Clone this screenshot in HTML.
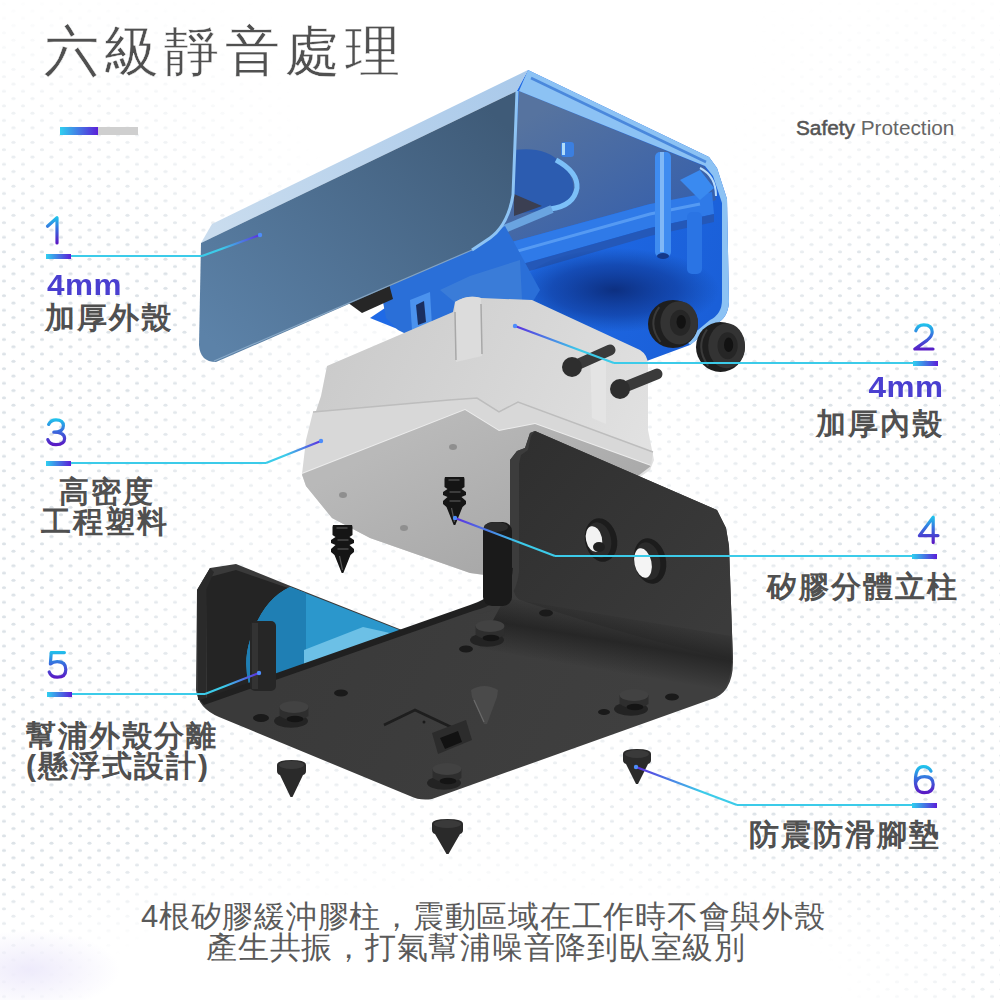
<!DOCTYPE html>
<html><head><meta charset="utf-8">
<style>
html,body{margin:0;padding:0;width:1000px;height:1000px;overflow:hidden;background:#fff}
body{position:relative;font-family:"Liberation Sans",sans-serif}
svg.main{position:absolute;left:0;top:0;width:1000px;height:1000px}
.t{position:absolute;white-space:nowrap;line-height:1}
.title{left:44px;top:24px;font-size:55px;color:#505050;letter-spacing:5.2px;-webkit-text-stroke:0.45px #fff;paint-order:normal}
.mm{font-size:30px;font-weight:700;color:#4a3fd0;letter-spacing:0.5px;transform:scaleX(1.05);transform-origin:left top}
.lab{font-size:30px;font-weight:700;color:#505050;letter-spacing:2px}
.bot{font-size:31px;letter-spacing:0.75px;color:#5a5a5a}
.sp{font-size:20.8px;color:#666}
.r{text-align:right}
</style></head><body>
<svg class="main" viewBox="0 0 1000 1000">
<defs>
 <linearGradient id="gbar" x1="0" x2="1" y1="0" y2="0"><stop offset="0" stop-color="#2fd0f0"/><stop offset="1" stop-color="#5a1fd8"/></linearGradient>
 <linearGradient id="gnum" x1="0" x2="0" y1="0" y2="1"><stop offset="0" stop-color="#3a7ff0"/><stop offset="1" stop-color="#6a2fe0"/></linearGradient>
</defs>
<defs>
 <pattern id="dots" patternUnits="userSpaceOnUse" width="19" height="14.6">
  <ellipse cx="4" cy="3.6" rx="2.1" ry="1.5" fill="#dce2e7"/>
  <ellipse cx="13.5" cy="10.9" rx="2.1" ry="1.5" fill="#dce2e7"/>
 </pattern>
 <radialGradient id="mTop" gradientUnits="userSpaceOnUse" cx="520" cy="40" r="420"><stop offset="0" stop-color="#000"/><stop offset="0.55" stop-color="#000"/><stop offset="1" stop-color="#000" stop-opacity="0"/></radialGradient>
 <radialGradient id="mBot" gradientUnits="userSpaceOnUse" cx="470" cy="990" r="620" gradientTransform="translate(0 990) scale(1 0.27) translate(0 -990)"><stop offset="0" stop-color="#000"/><stop offset="0.6" stop-color="#000"/><stop offset="1" stop-color="#000" stop-opacity="0"/></radialGradient>
 <linearGradient id="mTop2" gradientUnits="userSpaceOnUse" x1="0" y1="0" x2="0" y2="260"><stop offset="0" stop-color="#000" stop-opacity="0.95"/><stop offset="1" stop-color="#000" stop-opacity="0"/></linearGradient>
 <radialGradient id="mCen" gradientUnits="userSpaceOnUse" cx="470" cy="560" r="380"><stop offset="0" stop-color="#000" stop-opacity="0.6"/><stop offset="0.7" stop-color="#000" stop-opacity="0.45"/><stop offset="1" stop-color="#000" stop-opacity="0"/></radialGradient>
 <mask id="dmask" maskUnits="userSpaceOnUse" x="0" y="0" width="1000" height="1000">
  <rect width="1000" height="1000" fill="#fff"/>
  <rect width="1000" height="1000" fill="url(#mTop)"/>
  <rect width="1000" height="1000" fill="url(#mBot)"/>
  <rect width="1000" height="1000" fill="url(#mTop2)"/>
  <rect width="1000" height="1000" fill="url(#mCen)"/>
 </mask>
</defs>
<rect width="1000" height="1000" fill="url(#dots)" mask="url(#dmask)"/>
<defs><radialGradient id="gSm" cx="0.5" cy="0.5" r="0.5"><stop offset="0" stop-color="#eeebfb"/><stop offset="1" stop-color="#eeebfb" stop-opacity="0"/></radialGradient></defs><ellipse cx="30" cy="970" rx="90" ry="40" fill="url(#gSm)"/>
<!-- title bar -->
<rect x="60" y="127" width="38" height="8" fill="url(#gbar)"/>
<rect x="98" y="127" width="40" height="8" fill="#cfcfcf"/>


<!-- ===== PRODUCT ===== -->
<defs>
 <linearGradient id="gInt" gradientUnits="userSpaceOnUse" x1="540" y1="80" x2="640" y2="350"><stop offset="0" stop-color="#4a74b0"/><stop offset="0.45" stop-color="#2f6fd0"/><stop offset="1" stop-color="#1b5fd6"/></linearGradient>
 <linearGradient id="gPanel" gradientUnits="userSpaceOnUse" x1="480" y1="100" x2="230" y2="360"><stop offset="0" stop-color="#3f5b78"/><stop offset="1" stop-color="#5c82a8"/></linearGradient>
 <linearGradient id="gStrip" gradientUnits="userSpaceOnUse" x1="212" y1="230" x2="528" y2="75"><stop offset="0" stop-color="#c9dcee"/><stop offset="1" stop-color="#a9c9ea"/></linearGradient>
 <linearGradient id="gBox" gradientUnits="userSpaceOnUse" x1="320" y1="300" x2="650" y2="460"><stop offset="0" stop-color="#c9c9c9"/><stop offset="0.55" stop-color="#d6d6d6"/><stop offset="1" stop-color="#e2e2e2"/></linearGradient>
 <linearGradient id="gBoxBot" gradientUnits="userSpaceOnUse" x1="400" y1="440" x2="470" y2="575"><stop offset="0" stop-color="#b9b9b9"/><stop offset="1" stop-color="#a9a9a9"/></linearGradient>
 <linearGradient id="gBr" gradientUnits="userSpaceOnUse" x1="500" y1="440" x2="560" y2="780"><stop offset="0" stop-color="#2e2e2e"/><stop offset="1" stop-color="#3b3b3b"/></linearGradient>
 <linearGradient id="gBlueT" gradientUnits="userSpaceOnUse" x1="290" y1="590" x2="400" y2="640"><stop offset="0" stop-color="#2f8fc0"/><stop offset="1" stop-color="#5fb7e0"/></linearGradient>
</defs>

<!-- shell interior -->
<defs>
 <linearGradient id="gCeil" gradientUnits="userSpaceOnUse" x1="560" y1="100" x2="640" y2="240"><stop offset="0" stop-color="#56739f"/><stop offset="1" stop-color="#3760ab"/></linearGradient>
 <linearGradient id="gLow" gradientUnits="userSpaceOnUse" x1="520" y1="260" x2="700" y2="340"><stop offset="0" stop-color="#1f6ae6"/><stop offset="1" stop-color="#1a5fd8"/></linearGradient>
 <radialGradient id="gShadow" cx="0.45" cy="0.5" r="0.5"><stop offset="0" stop-color="#0a2670" stop-opacity="0.85"/><stop offset="0.6" stop-color="#0c3088" stop-opacity="0.5"/><stop offset="1" stop-color="#0d3a8c" stop-opacity="0"/></radialGradient>
</defs>
<path d="M517,90 L528,70 L709,157 L717,168 L727,199 L729,302 Q728,318 716,324 L690,345 L644,362 L560,352 L470,334 L400,330 L370,318 L472,250 Q500,232 510,205 Z" fill="url(#gLow)"/>
<!-- ceiling -->
<path d="M519,91 L704,166 L712,178 L716,200 L700,205 L650,204 L490,248 Q506,228 512,200 Z" fill="url(#gCeil)"/>
<!-- rod -->
<path d="M490,248 L650,204 L712,192 L714,214 L650,228 L480,276 Z" fill="#2f7ae8"/>
<path d="M500,256 L650,214 L700,204" stroke="#5fa2f5" stroke-width="3" fill="none" opacity="0.8"/>
<path d="M480,276 L650,228 L714,214 L714,222 L650,236 L478,286 Z" fill="#2458b8"/>
<!-- shadow -->
<ellipse cx="625" cy="290" rx="105" ry="42" fill="url(#gShadow)"/>
<!-- boss circle -->
<path d="M514,150 Q545,146 560,162 Q578,180 572,196 Q566,208 548,210 L514,214 Z" fill="#2c5cb0"/>
<path d="M514,194 L542,206 L514,216 Z" fill="#3b3f52"/>
<path d="M556,160 Q578,172 577,188 Q574,206 550,209" stroke="#7cc0f8" stroke-width="5" fill="none"/>
<path d="M502,230 L552,209" stroke="#6aa4e0" stroke-width="8" fill="none"/>
<rect x="561" y="142" width="13" height="15" rx="3" fill="#3b7fe0"/><rect x="562" y="143" width="3" height="12" fill="#b0dcfa"/>
<!-- pillars -->
<rect x="655" y="152" width="16" height="105" rx="5" fill="#3f8cf0"/>
<rect x="660" y="152" width="4" height="100" fill="#9ccaf8" opacity="0.7"/>
<ellipse cx="663" cy="256" rx="6" ry="3" fill="#14398a"/>
<rect x="687" y="212" width="15" height="62" rx="5" fill="#2a74e4"/>
<path d="M680,180 L700,170 L714,188 L700,200 Z" fill="#3a8af0"/>
<!-- rim top + right -->
<path d="M528,70 L709,157 L717,168 L727,199 L729,302 Q728,318 716,324 L690,345 L686,340 L710,320 Q722,314 722,300 L722,203 L713,176 L705,166 L519,91 Z" fill="#8cc2f4"/>
<path d="M531,78 L706,162" stroke="#4a88dc" stroke-width="2.5" fill="none"/>
<path d="M700,168 Q716,176 716,196" stroke="#b9dcfb" stroke-width="2" fill="none"/>
<!-- blue parts under panel -->
<path d="M380,286 L470,246 L505,226 L540,290 L520,322 L470,334 L410,336 L398,330 L386,318 Z" fill="#2a6fd8"/>
<path d="M410,300 L430,292 L432,326 L412,330 Z" fill="#4b92ee"/>
<path d="M416,305 L424,301 L426,322 L418,325 Z" fill="#1a2f60"/>
<path d="M440,290 L470,276 L520,260 L522,300 L470,315 Z" fill="#3f7fd8" opacity="0.8"/>
<path d="M347,302 L389,284 L393,299 L362,313 Z" fill="#262626"/>
<!-- front panel strip -->
<path d="M201,243 L212,224 L528,70 L517,91 Z" fill="url(#gStrip)"/>
<!-- front panel -->
<path d="M201,243 L517,91 L513,195 Q508,225 490,238 L472,250 L216,362 Q200,362 199,345 Z" fill="url(#gPanel)"/>
<path d="M517,91 L513,195 Q508,225 490,238 L472,250" stroke="#8ec4f4" stroke-width="3" fill="none"/>
<path d="M214,361 L472,250" stroke="#9dbad6" stroke-width="1.2" fill="none" opacity="0.7"/>
<!-- white box -->
<path d="M327,366 L453,312 L455,302 Q468,294 481,298 L532,300 L640,350 Q648,355 648,365 L648,430 L654,460 L650,470 L600,505 L485,575 L470,573 L370,538 L332,518 L306,486 L302,475 L311,440 L315,414 L321,396 Z" fill="url(#gBox)"/>
<!-- box rim band -->
<path d="M313,412 L449,400 L477,398 L499,412 L518,402 L653,452 L651,466 L535,424 L499,431 L465,410 L302,474 L306,440 Z" fill="#d8d8d8"/>
<path d="M313,412 L449,400 L477,398 L499,412 L518,402 L653,452" stroke="#bdbdbd" stroke-width="1.5" fill="none"/>
<path d="M302,474 L465,410 L499,431 L535,424 L651,466" stroke="#ececec" stroke-width="2" fill="none"/>
<!-- box bottom face -->
<path d="M302,474 L465,410 L499,431 L535,424 L651,466 L600,505 L485,575 L470,573 L370,538 L332,518 L306,486 Z" fill="url(#gBoxBot)"/>
<!-- box posts -->
<path d="M455,302 Q468,294 481,298 L482,356 L456,362 Z" fill="#dcdcdc"/>
<path d="M455,312 L456,360 M481,304 L482,354" stroke="#a8a8a8" stroke-width="1.5" fill="none"/>
<path d="M590,350 L606,356 L606,424 L592,418 Z" fill="#e4e4e4"/>
<!-- screw holes -->
<ellipse cx="453" cy="447" rx="4" ry="3" fill="#8f8f8f"/><ellipse cx="343" cy="495" rx="4" ry="3" fill="#8f8f8f"/><ellipse cx="404" cy="528" rx="4" ry="3" fill="#8f8f8f"/>

<!-- screws on box -->
<g stroke="#3a3a3a" stroke-linecap="round">
 <line x1="572" y1="367" x2="610" y2="350" stroke-width="11"/>
 <line x1="620" y1="389" x2="657" y2="374" stroke-width="11"/>
</g>
<circle cx="572" cy="367" r="10" fill="#2e2e2e"/>
<circle cx="620" cy="389" r="10" fill="#2e2e2e"/>

<!-- grommets -->
<ellipse cx="673.0" cy="324.0" rx="25.0" ry="24.0" fill="#1e1e1e"/><path d="M659.2,307.2 Q646.8,324.0 660.5,342.0" stroke="#3a3a3a" stroke-width="2" fill="none"/><ellipse cx="679.2" cy="322.8" rx="18.8" ry="21.6" fill="#333"/><ellipse cx="680.2" cy="322.8" rx="10.3" ry="13.0" fill="#262626"/><ellipse cx="681.2" cy="321.8" rx="4.7" ry="6.9" fill="#121212"/>
<ellipse cx="720.5" cy="347.0" rx="24.5" ry="25.0" fill="#1e1e1e"/><path d="M707.0,329.5 Q694.8,347.0 708.2,365.8" stroke="#3a3a3a" stroke-width="2" fill="none"/><ellipse cx="726.6" cy="345.8" rx="18.4" ry="22.5" fill="#333"/><ellipse cx="727.6" cy="345.8" rx="10.1" ry="13.5" fill="#262626"/><ellipse cx="728.6" cy="344.8" rx="4.6" ry="7.2" fill="#121212"/>
<!-- spiral screws -->
<path d="M464.0,477.0 L464.5,479.0 L464.5,487.0 L461.5,489.0 L466.0,492.0 L466.0,495.0 L461.5,497.0 L466.0,501.0 L466.0,504.0 L462.5,507.0 L455.3,525.0 L453.7,525.0 L446.5,507.0 L443.0,504.0 L443.0,501.0 L447.5,497.0 L443.0,495.0 L443.0,492.0 L447.5,489.0 L444.5,487.0 L444.5,479.0 L445.0,477.0 Z" fill="#151515"/><path d="M449.5,492.0 L460.5,492.0 M449.5,501.0 L460.5,501.0 M448.5,480.0 L459.5,480.0" stroke="#4a4a4a" stroke-width="1.3"/><path d="M451.5,508.0 L454.5,522.0" stroke="#555" stroke-width="1.2"/><path d="M352.0,525.0 L352.5,527.0 L352.5,535.0 L349.5,537.0 L354.0,540.0 L354.0,543.0 L349.5,545.0 L354.0,549.0 L354.0,552.0 L350.5,555.0 L343.3,573.0 L341.7,573.0 L334.5,555.0 L331.0,552.0 L331.0,549.0 L335.5,545.0 L331.0,543.0 L331.0,540.0 L335.5,537.0 L332.5,535.0 L332.5,527.0 L333.0,525.0 Z" fill="#151515"/><path d="M337.5,540.0 L348.5,540.0 M337.5,549.0 L348.5,549.0 M336.5,528.0 L347.5,528.0" stroke="#4a4a4a" stroke-width="1.3"/><path d="M339.5,556.0 L342.5,570.0" stroke="#555" stroke-width="1.2"/>

<!-- black bracket -->
<defs>
 <linearGradient id="gPlate" gradientUnits="userSpaceOnUse" x1="520" y1="440" x2="730" y2="620"><stop offset="0" stop-color="#2f2f2f"/><stop offset="1" stop-color="#3b3b3b"/></linearGradient>
 <linearGradient id="gBase" gradientUnits="userSpaceOnUse" x1="300" y1="640" x2="600" y2="790"><stop offset="0" stop-color="#3a3a3a"/><stop offset="1" stop-color="#3f3f3f"/></linearGradient>
 <linearGradient id="gBend" gradientUnits="userSpaceOnUse" x1="0" y1="590" x2="0" y2="680"><stop offset="0" stop-color="#2e2e2e"/><stop offset="0.5" stop-color="#404040"/><stop offset="1" stop-color="#383838"/></linearGradient>
</defs>
<path d="M535,431 L717,510 L726,528 L729,546 L733,662 Q733,694 709,700 L432,799 Q420,801 410,796 L219,717 Q198,708 196,690 L197,590 L210,568 L236,564 L288,585 L402,630 L470,611 Q505,600 510,570 L510,460 L517,451 L525,448 L530,433 Z" fill="url(#gBase)"/>
<!-- right plate face -->
<path d="M535,431 L717,510 L726,528 L729,546 L733,660 Q640,640 520,600 Q512,596 512,575 L512,460 L519,452 L527,449 L531,434 Z" fill="url(#gPlate)"/>
<!-- bend highlight -->
<defs><linearGradient id="gBendS" gradientUnits="userSpaceOnUse" x1="622" y1="612" x2="612" y2="672"><stop offset="0" stop-color="#1a1a1a" stop-opacity="0"/><stop offset="0.5" stop-color="#1a1a1a" stop-opacity="0.65"/><stop offset="1" stop-color="#1a1a1a" stop-opacity="0"/></linearGradient></defs>
<path d="M505,598 L731,636 L732,662 Q731,680 722,692 L478,648 Z" fill="url(#gBendS)"/>
<!-- right plate inner edge -->
<path d="M510,460 L517,451 L525,448 L530,433 L535,431 L531,436 L528,450 L521,455 L519,464 L519,572 Q516,606 480,614 L470,611 Q505,600 510,570 Z" fill="#3c3c3c"/>
<!-- left plate inner -->
<path d="M206,578 L236,570 L288,588 L402,632 L207,703 Z" fill="#242424"/>
<path d="M197,590 L210,568 L214,572 L206,590 L206,700 L198,700 Z" fill="#2a2a2a"/>
<!-- blue translucent -->
<path d="M290,587 L402,631 L306,665 L249,684 Q243,662 250,640 Q262,600 290,587 Z" fill="#2b97cc"/>
<path d="M290,587 L306,593 L306,665 L249,684 Q243,662 250,640 Q262,600 290,587 Z" fill="#1f7fb4"/>
<path d="M304,650 L363,627 L390,633 L304,667 Z" fill="#6cc0e6"/>

<!-- post in left -->
<!-- rim -->
<path d="M200,700 L470,605 Q502,595 506,566 L513,568 Q511,602 473,611 L204,705 Z" fill="#202020"/>
<rect x="250" y="621" width="26" height="70" rx="5" fill="#262626"/>
<rect x="252" y="623" width="6" height="66" fill="#333"/>

<!-- right post (through window) -->
<rect x="483" y="522" width="29" height="84" rx="9" fill="#1a1a1a"/>
<ellipse cx="496" cy="527" rx="12" ry="5" fill="#2c2c2c"/>
<!-- holes right plate -->
<ellipse cx="601" cy="540" rx="16" ry="22" transform="rotate(-12 601 540)" fill="#1c1c1c"/>
<ellipse cx="599" cy="540" rx="12" ry="18" transform="rotate(-12 599 540)" fill="#2a2a2a"/>
<ellipse cx="594" cy="539" rx="8" ry="13" transform="rotate(-12 594 539)" fill="#f2f2f2"/>
<ellipse cx="599" cy="547" rx="6" ry="5" fill="#202020"/>
<ellipse cx="650" cy="561" rx="16" ry="23" transform="rotate(-12 650 561)" fill="#1c1c1c"/>
<ellipse cx="648" cy="561" rx="12" ry="19" transform="rotate(-12 648 561)" fill="#2a2a2a"/>
<ellipse cx="643" cy="563" rx="8.5" ry="15" transform="rotate(-12 643 563)" fill="#f4f4f4"/>
<!-- base holes / bumps -->
<ellipse cx="291" cy="721" rx="17" ry="6.8" fill="#232323"/><path d="M279.6,707 L279.6,716 Q294,725 308.4,716 L308.4,707 Z" fill="#2e2e2e"/><ellipse cx="294" cy="707" rx="14.4" ry="6" fill="#424242"/><ellipse cx="295" cy="719" rx="8.5" ry="3.2" fill="#141414"/><ellipse cx="487" cy="640" rx="17" ry="6.8" fill="#232323"/><path d="M475.6,626 L475.6,635 Q490,644 504.4,635 L504.4,626 Z" fill="#2e2e2e"/><ellipse cx="490" cy="626" rx="14.4" ry="6" fill="#424242"/><ellipse cx="491" cy="638" rx="8.5" ry="3.2" fill="#141414"/><ellipse cx="631" cy="709" rx="17" ry="6.8" fill="#232323"/><path d="M619.5,695 L619.5,704 Q634,713 648.5,704 L648.5,695 Z" fill="#2e2e2e"/><ellipse cx="634" cy="695" rx="14.4" ry="6" fill="#424242"/><ellipse cx="635" cy="707" rx="8.5" ry="3.2" fill="#141414"/><ellipse cx="444" cy="783" rx="17" ry="6.8" fill="#232323"/><path d="M432.6,769 L432.6,778 Q447,787 461.4,778 L461.4,769 Z" fill="#2e2e2e"/><ellipse cx="447" cy="769" rx="14.4" ry="6" fill="#424242"/><ellipse cx="448" cy="781" rx="8.5" ry="3.2" fill="#141414"/>
<g fill="#1a1a1a">
 <ellipse cx="261" cy="718" rx="8" ry="4"/><ellipse cx="341" cy="693" rx="7" ry="3.5"/><ellipse cx="466" cy="649" rx="7" ry="3.5"/>
 <ellipse cx="604" cy="712" rx="6" ry="3"/><ellipse cx="672" cy="697" rx="7" ry="3.5"/><ellipse cx="546" cy="613" rx="7" ry="3.5"/>
</g>
<!-- label rect -->
<path d="M384,725 L415,710 L451,727" stroke="#1e1e1e" stroke-width="2.5" fill="none"/>
<path d="M432,733 L466,720 L472,740 L438,754 Z" fill="#2c2c2c"/>
<path d="M440,738 L458,731 L462,742 L445,749 Z" fill="#121212"/>
<circle cx="424" cy="722" r="1.5" fill="#1a1a1a"/>
<!-- cone projection -->
<path d="M471,690 Q484,682 498,690 L497,697 L487,724 L484,724 L472,697 Z" fill="#4a4a4a"/>
<path d="M474,700 L484,722" stroke="#6a6a6a" stroke-width="1.2"/>

<!-- feet -->
<path d="M277,765 Q277,760 291.5,760 Q306,760 306,765 L306,771 Q306,774 303,775 L292.5,797 L290.5,797 L280,775 Q277,774 277,771 Z" fill="#2a2a2a"/><ellipse cx="291.5" cy="765" rx="12.5" ry="4" fill="#3a3a3a"/><path d="M432,824 Q432,819 447.5,819 Q463,819 463,824 L463,830 Q463,833 460,834 L448.5,854 L446.5,854 L435,834 Q432,833 432,830 Z" fill="#2a2a2a"/><ellipse cx="447.5" cy="824" rx="13.5" ry="4" fill="#3a3a3a"/><path d="M623,754 Q623,749 637.0,749 Q651,749 651,754 L651,760 Q651,763 648,764 L638.0,784 L636.0,784 L626,764 Q623,763 623,760 Z" fill="#2a2a2a"/><ellipse cx="637.0" cy="754" rx="12.0" ry="4" fill="#3a3a3a"/>
<!-- leader lines -->
<defs>
 <linearGradient id="gl0" gradientUnits="userSpaceOnUse" x1="202" y1="256" x2="260" y2="235"><stop offset="0" stop-color="#3ccbe9"/><stop offset="0.35" stop-color="#3ccbe9"/><stop offset="1" stop-color="#5b2ee0"/></linearGradient>
 <linearGradient id="gl1" gradientUnits="userSpaceOnUse" x1="266" y1="463" x2="321" y2="441"><stop offset="0" stop-color="#3ccbe9"/><stop offset="0.35" stop-color="#3ccbe9"/><stop offset="1" stop-color="#5b2ee0"/></linearGradient>
 <linearGradient id="gl2" gradientUnits="userSpaceOnUse" x1="205" y1="694" x2="259" y2="673"><stop offset="0" stop-color="#3ccbe9"/><stop offset="0.35" stop-color="#3ccbe9"/><stop offset="1" stop-color="#5b2ee0"/></linearGradient>
 <linearGradient id="gl3" gradientUnits="userSpaceOnUse" x1="614" y1="363" x2="515" y2="326"><stop offset="0" stop-color="#3ccbe9"/><stop offset="0.35" stop-color="#3ccbe9"/><stop offset="1" stop-color="#5b2ee0"/></linearGradient>
 <linearGradient id="gl4" gradientUnits="userSpaceOnUse" x1="555" y1="556" x2="455" y2="518"><stop offset="0" stop-color="#3ccbe9"/><stop offset="0.35" stop-color="#3ccbe9"/><stop offset="1" stop-color="#5b2ee0"/></linearGradient>
 <linearGradient id="gl5" gradientUnits="userSpaceOnUse" x1="737" y1="805" x2="636" y2="767"><stop offset="0" stop-color="#3ccbe9"/><stop offset="0.35" stop-color="#3ccbe9"/><stop offset="1" stop-color="#5b2ee0"/></linearGradient>
</defs>
<line x1="60" y1="256" x2="202" y2="256" stroke="#3ccbe9" stroke-width="2"/>
<line x1="202" y1="256" x2="260" y2="235" stroke="url(#gl0)" stroke-width="2.2"/>
<circle cx="260" cy="235" r="2.2" fill="#4d8dfa"/>
<line x1="60" y1="463" x2="266" y2="463" stroke="#3ccbe9" stroke-width="2"/>
<line x1="266" y1="463" x2="321" y2="441" stroke="url(#gl1)" stroke-width="2.2"/>
<circle cx="321" cy="441" r="2.2" fill="#4d8dfa"/>
<line x1="60" y1="694" x2="205" y2="694" stroke="#3ccbe9" stroke-width="2"/>
<line x1="205" y1="694" x2="259" y2="673" stroke="url(#gl2)" stroke-width="2.2"/>
<circle cx="259" cy="673" r="2.2" fill="#4d8dfa"/>
<line x1="925" y1="363" x2="614" y2="363" stroke="#3ccbe9" stroke-width="2"/>
<line x1="614" y1="363" x2="515" y2="326" stroke="url(#gl3)" stroke-width="2.2"/>
<circle cx="515" cy="326" r="2.2" fill="#4d8dfa"/>
<line x1="925" y1="556" x2="555" y2="556" stroke="#3ccbe9" stroke-width="2"/>
<line x1="555" y1="556" x2="455" y2="518" stroke="url(#gl4)" stroke-width="2.2"/>
<circle cx="455" cy="518" r="2.2" fill="#4d8dfa"/>
<line x1="925" y1="805" x2="737" y2="805" stroke="#3ccbe9" stroke-width="2"/>
<line x1="737" y1="805" x2="636" y2="767" stroke="url(#gl5)" stroke-width="2.2"/>
<circle cx="636" cy="767" r="2.2" fill="#4d8dfa"/>
<g>
 <rect x="46" y="254" width="25" height="5" fill="url(#gbar)"/>
 <rect x="46" y="461" width="25" height="5" fill="url(#gbar)"/>
 <rect x="47" y="692" width="25" height="5" fill="url(#gbar)"/>
 <rect x="913" y="361" width="25" height="5" fill="url(#gbar)"/>
 <rect x="912" y="554" width="25" height="5" fill="url(#gbar)"/>
 <rect x="912" y="803" width="25" height="5" fill="url(#gbar)"/>
</g>
<defs>
 <linearGradient id="gn1" gradientUnits="userSpaceOnUse" x1="0" y1="216.8" x2="0" y2="243.2"><stop offset="0" stop-color="#20c4ec"/><stop offset="0.5" stop-color="#3a66dc"/><stop offset="1" stop-color="#5a18c4"/></linearGradient>
 <linearGradient id="gn3" gradientUnits="userSpaceOnUse" x1="0" y1="418.8" x2="0" y2="445.2"><stop offset="0" stop-color="#20c4ec"/><stop offset="0.5" stop-color="#3a66dc"/><stop offset="1" stop-color="#5a18c4"/></linearGradient>
 <linearGradient id="gn5" gradientUnits="userSpaceOnUse" x1="0" y1="651" x2="0" y2="678.2"><stop offset="0" stop-color="#20c4ec"/><stop offset="0.5" stop-color="#3a66dc"/><stop offset="1" stop-color="#5a18c4"/></linearGradient>
 <linearGradient id="gn2" gradientUnits="userSpaceOnUse" x1="0" y1="324" x2="0" y2="350.4"><stop offset="0" stop-color="#20c4ec"/><stop offset="0.5" stop-color="#3a66dc"/><stop offset="1" stop-color="#5a18c4"/></linearGradient>
 <linearGradient id="gn4" gradientUnits="userSpaceOnUse" x1="0" y1="516.4" x2="0" y2="542.8"><stop offset="0" stop-color="#20c4ec"/><stop offset="0.5" stop-color="#3a66dc"/><stop offset="1" stop-color="#5a18c4"/></linearGradient>
 <linearGradient id="gn6" gradientUnits="userSpaceOnUse" x1="0" y1="766" x2="0" y2="793.2"><stop offset="0" stop-color="#20c4ec"/><stop offset="0.5" stop-color="#3a66dc"/><stop offset="1" stop-color="#5a18c4"/></linearGradient>
</defs>
<g fill="none" stroke-width="3.2" stroke-linecap="round" stroke-linejoin="round">
 <path d="M47.5,226.2 L57,217.8 L57,243" stroke="url(#gn1)"/>
 <path d="M48.6,424.4 Q51,419.8 56,419.8 Q63.4,419.8 63.4,425.8 Q63.4,432.2 53.8,432.2 Q64.6,432.2 64.6,438.6 Q64.6,444.6 56,444.6 Q49.6,444.6 47.8,439.6" stroke="url(#gn3)"/>
 <path d="M64.4,652.6 L51.2,652.6 L50.4,664 Q53,661.6 57.2,661.6 Q65.8,661.6 65.8,669.4 Q65.8,677.2 57.2,677.2 Q51,677.2 49.2,672" stroke="url(#gn5)"/>
 <path d="M915.8,330.8 Q917.6,324.8 923.8,324.8 Q932.2,324.8 932.2,332 Q932.2,336 927,340.4 L914.8,349 L933,349" stroke="url(#gn2)"/>
 <path d="M933.2,542.4 L933.2,517.2 L919.4,535.6 L938,535.6" stroke="url(#gn4)"/>
 <path d="M931,771.2 Q929,766.6 923.4,766.6 Q915.4,766.6 915.4,781 Q915.4,792.6 924.2,792.6 Q933.2,792.6 933.2,784.4 Q933.2,776.6 924.6,776.6 Q917,776.6 915.6,783" stroke="url(#gn6)"/>
</g>
</svg>
<div class="t title">六級靜音處理</div>
<div class="t sp" style="left:796px;top:118px"><span style="-webkit-text-stroke:0.55px #555;color:#555">Safety</span> Protection</div>

<div class="t mm" style="left:47px;top:270px">4mm</div>
<div class="t lab" style="left:45px;top:303px">加厚外殼</div>
<div class="t mm" style="right:56px;top:372px;transform-origin:right top">4mm</div>
<div class="t lab" style="right:56px;top:409px">加厚內殼</div>
<div class="t lab" style="left:59px;top:477px">高密度</div>
<div class="t lab" style="left:41px;top:507px">工程塑料</div>
<div class="t lab" style="right:41px;top:572px">矽膠分體立柱</div>
<div class="t lab" style="left:26px;top:721px">幫浦外殼分離</div>
<div class="t lab" style="left:26px;top:751px">(懸浮式設計)</div>
<div class="t lab" style="right:59px;top:820px">防震防滑腳墊</div>

<div class="t bot" style="left:141px;top:901px">4根矽膠緩沖膠柱，震動區域在工作時不會與外殼</div>
<div class="t bot" style="left:206px;top:932px">產生共振，打氣幫浦噪音降到臥室級別</div>
</body></html>
